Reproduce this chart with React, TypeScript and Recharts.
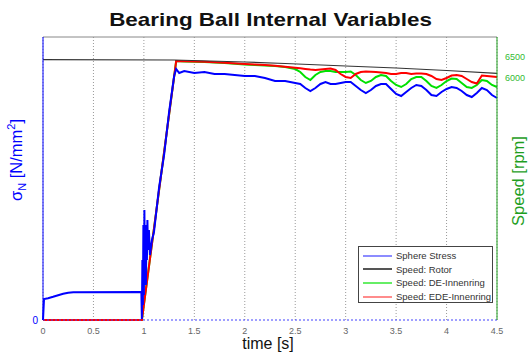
import React from 'react';
import { LineChart, Line, XAxis, YAxis, CartesianGrid, ReferenceLine } from 'recharts';

const xTicks = [0, 0.5, 1, 1.5, 2, 2.5, 3, 3.5, 4, 4.5];
const speedTicks = [6000, 6500];
const stressTicks = [0];

const seriesNames = ['Sphere Stress', 'Speed: Rotor', 'Speed: DE-Innenring', 'Speed: EDE-Innenring'];

const stressTime = [0, 0.01, 0.05, 0.1, 0.15, 0.2, 0.25, 0.3, 0.97, 0.975,
  0.98, 0.985, 0.99, 0.995, 1.0, 1.005, 1.01, 1.015, 1.02, 1.025, 1.03, 1.035,
  1.04, 1.05, 1.06, 1.08, 1.1, 1.15, 1.2, 1.25, 1.3, 1.32,
  1.35, 1.4,
  1.5, 1.6, 1.7, 1.8, 1.9, 2.0, 2.1, 2.2, 2.3, 2.4, 2.5,
  2.55, 2.6, 2.65, 2.7, 2.75, 2.8, 2.85, 2.9, 2.95, 3.0,
  3.05, 3.1, 3.15, 3.2, 3.25, 3.3, 3.35, 3.4, 3.45, 3.5,
  3.55, 3.6, 3.65, 3.7, 3.75, 3.8, 3.85, 3.9, 3.95, 4.0,
  4.05, 4.1, 4.15, 4.2, 4.25, 4.3, 4.35, 4.4, 4.45, 4.5];
const stressValue = [0, 210, 218, 232, 248, 262, 272, 278, 281, 281,
  10, 600, 150, 950, 250, 1100, 400, 950, 350, 850, 600, 1000,
  700, 900, 650, 800, 880, 1320, 1650, 2080, 2440, 2510,
  2470, 2490,
  2470, 2480, 2460, 2460, 2450, 2440, 2440, 2420, 2390, 2390, 2370,
  2360, 2320, 2290, 2320, 2360, 2380, 2360, 2360, 2370, 2380,
  2380, 2340, 2300, 2270, 2300, 2340, 2360, 2360, 2310, 2260,
  2240, 2280, 2320, 2350, 2340, 2300, 2250, 2240, 2280, 2310,
  2330, 2320, 2290, 2250, 2230, 2270, 2320, 2300, 2250, 2220];

const rotorTime = [0, 1.3, 2.0, 2.4, 3.0, 3.5, 4.0, 4.5];
const rotorValue = [6440, 6431, 6382, 6345, 6283, 6233, 6171, 6102];

const ringTime = [0, 0.98, 1.32, 1.4, 1.6, 1.8, 2.0, 2.1, 2.2, 2.3, 2.4, 2.5,
  2.55, 2.6, 2.65, 2.7, 2.75, 2.8, 2.85, 2.9, 2.95, 3.0,
  3.05, 3.1, 3.15, 3.2, 3.25, 3.3, 3.35, 3.4, 3.45, 3.5,
  3.55, 3.6, 3.65, 3.7, 3.75, 3.8, 3.85, 3.9, 3.95, 4.0,
  4.05, 4.1, 4.15, 4.2, 4.25, 4.3, 4.35, 4.4, 4.45, 4.5];
const deValue = [0, 0, 6406, 6394, 6382, 6357, 6320, 6307, 6295, 6283, 6258, 6208,
  6134, 6011, 5936, 6060, 6134, 6159, 6159, 6134, 6134, 6134,
  6147, 6060, 5936, 5862, 5912, 6011, 6060, 6035, 5912, 5813,
  5763, 5837, 5961, 6011, 6011, 5912, 5788, 5739, 5813, 5912,
  5974, 5961, 5862, 5763, 5739, 5813, 5936, 5912, 5813, 5763];
const edeValue = [0, 0, 6406, 6400, 6390, 6365, 6330, 6318, 6305, 6290, 6265, 6240,
  6225, 6210, 6195, 6184, 6195, 6208, 6221, 6184, 6085, 6011,
  5986, 6085, 6134, 6147, 6140, 6134, 6122, 6110, 6085, 6085,
  6110, 6110, 6085, 6097, 6097, 6085, 6035, 5961, 5936, 5986,
  6048, 6060, 6035, 5961, 5887, 5850, 6048, 6035, 6023, 6011];

const toPoints = (ts: number[], vs: number[]) => ts.map((t, i) => ({ t, v: vs[i] }));

const stressData = toPoints(stressTime, stressValue);
const rotorData = toPoints(rotorTime, rotorValue);
const deData = toPoints(ringTime, deValue);
const edeData = toPoints(ringTime, edeValue);

const W = 528;
const H = 354;
const FONT = 'Arial, "Liberation Sans", Helvetica, sans-serif';

const BLUE = '#0000ff';
const GREEN = '#00e000';
const RED = '#ff0000';
const BLACK = '#333333';
const AXIS_GREEN = '#1e9e1e';

const legendColors = ['#8c8cff', '#555555', '#66ee66', '#ff8c8c'];

const LegendBox = () => (
  <div
    style={{
      position: 'absolute',
      left: 358,
      top: 246,
      border: '1px solid #444',
      background: '#fff',
      width: 133,
      height: 53,
      fontFamily: FONT,
      fontSize: 9.5,
      color: '#333',
      paddingTop: 2,
      zIndex: 3,
    }}
  >
    {seriesNames.map((n, i) => (
      <div key={n} style={{ display: 'flex', alignItems: 'center', height: 13.6 }}>
        <div style={{ width: 29, height: 2, background: legendColors[i], marginLeft: 4, marginRight: 4 }} />
        <span style={{ whiteSpace: 'nowrap', lineHeight: '13px' }}>{n}</span>
      </div>
    ))}
  </div>
);

const StressLabel = () => (
  <text
    transform="translate(22,160) rotate(-90)"
    textAnchor="middle"
    fill={BLUE}
    fontFamily={FONT}
    fontSize={16.5}
  >
    σ<tspan fontSize={11} dy={4}>N</tspan>
    <tspan dy={-4}> [N/mm</tspan>
    <tspan fontSize={11} dy={-7}>2</tspan>
    <tspan dy={7}>]</tspan>
  </text>
);

const SpeedLabel = () => (
  <text
    transform="translate(524,181) rotate(-90)"
    textAnchor="middle"
    fill={AXIS_GREEN}
    fontFamily={FONT}
    fontSize={16.5}
  >
    Speed [rpm]
  </text>
);

const TimeLabel = () => (
  <text x={268} y={349} textAnchor="middle" fill="#111" fontFamily={FONT} fontSize={16}>
    time [s]
  </text>
);

export default function App() {
  return (
    <div style={{ position: 'absolute', left: 0, top: 0, width: W, height: H, background: '#fff' }}>
      <div
        style={{
          position: 'absolute',
          left: 0,
          top: 10,
          width: 541,
          textAlign: 'center',
          fontFamily: FONT,
          fontWeight: 'bold',
          fontSize: 19,
          lineHeight: '19px',
          color: '#111',
          zIndex: 2,
          transform: 'scaleX(1.18)',
          transformOrigin: '270.5px 50%',
        }}
      >
        Bearing Ball Internal Variables
      </div>
      <LineChart width={W} height={H} margin={{ top: 37, right: 0, bottom: 0, left: 0 }}>
        <CartesianGrid horizontal={false} stroke="#9a9a9a" strokeDasharray="1 2" />
        <XAxis
          dataKey="t"
          type="number"
          domain={[0, 4.5]}
          ticks={xTicks}
          height={34}
          tickSize={6}
          tickMargin={2}
          tickLine={false}
          axisLine={{ stroke: '#4040ff', strokeDasharray: '2 2' }}
          tick={{ fill: '#666', fontSize: 9, fontFamily: FONT }}
          allowDuplicatedCategory={false}
          label={TimeLabel}
        />
        <YAxis
          yAxisId="stress"
          orientation="left"
          width={43}
          domain={[0, 2830]}
          ticks={stressTicks}
          tickSize={5}
          tickMargin={0}
          tickLine={false}
          axisLine={{ stroke: BLUE }}
          tick={{ fill: BLUE, fontSize: 10, fontFamily: FONT }}
          label={StressLabel}
        />
        <YAxis
          yAxisId="speed"
          orientation="right"
          width={31}
          domain={[0, 7000]}
          ticks={speedTicks}
          tickSize={5}
          tickMargin={3}
          tickLine={false}
          axisLine={{ stroke: AXIS_GREEN }}
          tick={{ fill: '#33bb33', fontSize: 9, fontFamily: FONT }}
          label={SpeedLabel}
        />
        <ReferenceLine yAxisId="speed" y={7000} stroke="#888" />
        <Line yAxisId="speed" data={deData} dataKey="v" name={seriesNames[2]} stroke={GREEN} strokeWidth={2} dot={false} isAnimationActive={false} />
        <Line yAxisId="speed" data={edeData} dataKey="v" name={seriesNames[3]} stroke={RED} strokeWidth={2} dot={false} isAnimationActive={false} />
        <Line yAxisId="speed" data={rotorData} dataKey="v" name={seriesNames[1]} stroke={BLACK} strokeWidth={1.2} dot={false} isAnimationActive={false} />
        <Line yAxisId="stress" data={stressData} dataKey="v" name={seriesNames[0]} stroke={BLUE} strokeWidth={2} dot={false} isAnimationActive={false} />
      </LineChart>
      <LegendBox />
    </div>
  );
}
